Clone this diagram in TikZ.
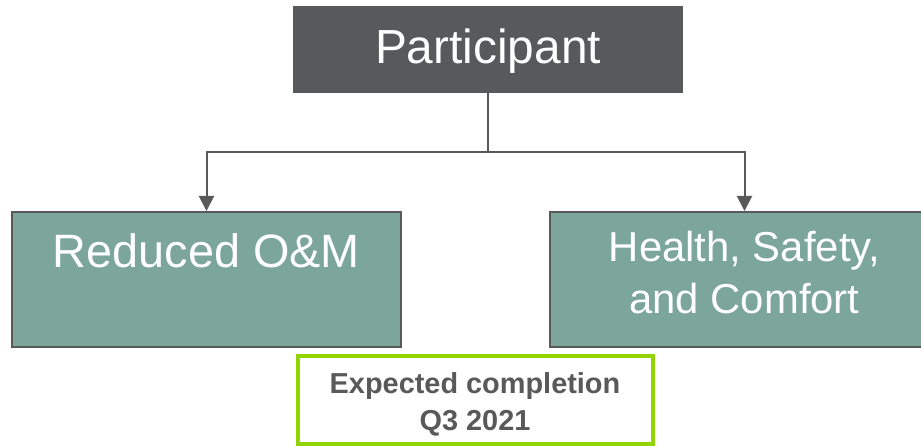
\documentclass[tikz,border=0pt]{standalone}
\usepackage{fontspec}
\setmainfont{Liberation Sans}
\usetikzlibrary{arrows.meta}
\definecolor{partgray}{HTML}{58595B}
\definecolor{linegray}{HTML}{595959}
\definecolor{boxteal}{HTML}{7BA699}
\definecolor{donegreen}{HTML}{92D400}
\tikzset{
  headbox/.style={rectangle,fill=partgray,draw=none,text=white,inner sep=0pt,
    minimum width=390bp,minimum height=87bp,text height=58bp,text depth=29bp,
    font=\fontsize{48}{58}\selectfont},
  benefitbox/.style={rectangle,fill=boxteal,draw=linegray,line width=2bp,text=white,
    inner sep=0pt,minimum width=389bp,minimum height=135bp,
    font=\fontsize{42}{52}\selectfont},
  notebox/.style={rectangle,fill=white,draw=donegreen,line width=4bp,text=linegray,
    inner sep=0pt,minimum width=355bp,minimum height=88bp,text height=37.5bp,text depth=50.5bp,
    font=\bfseries\fontsize{29}{37}\selectfont},
  feed/.style={linegray,line width=2bp},
}
\begin{document}
\begin{tikzpicture}[>={Triangle[width=15bp,length=15bp]},line join=miter,]
\useasboundingbox (0bp,0bp) rectangle (921bp,446bp);
%%
\node (participant) at (488.0bp,396.5bp) [headbox] {Participant};
  \node (reduced) at (206.5bp,166.5bp) [benefitbox,text height=56bp,text depth=79bp,
    font=\fontsize{47}{56}\selectfont] {Reduced O\&M};
  \node (health) at (744.5bp,166.5bp) [benefitbox,text height=50bp,text depth=85bp]
    {\parbox[t]{389bp}{\centering Health, Safety,\\ and Comfort}};
  \node (expected) at (475.0bp,46.0bp) [notebox]
    {\parbox[t]{355bp}{\centering Expected completion\\ Q3 2021}};
  \coordinate (split) at (488.0bp,294.0bp);
  \draw [feed] (participant) -- (split);
  \draw [feed,->] (split) -| (reduced);
  \draw [feed,->] (split) -| (health);
%
\end{tikzpicture}
\end{document}
